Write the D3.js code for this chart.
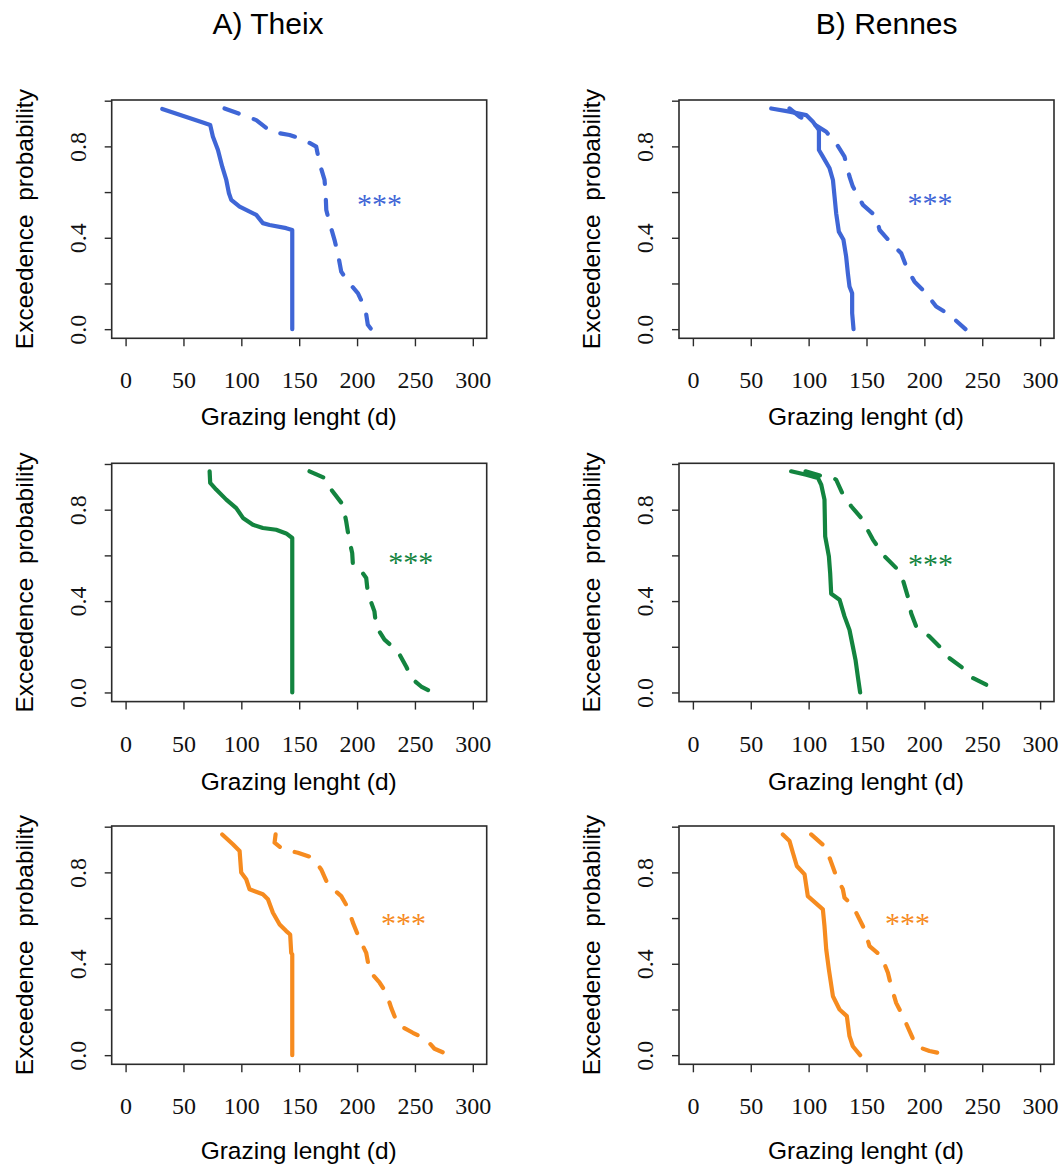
<!DOCTYPE html>
<html>
<head>
<meta charset="utf-8">
<script src="https://cdn.jsdelivr.net/npm/d3@7"></script>
<style>
  html, body { margin: 0; padding: 0; background: #fff; }
  svg { display: block; }
</style>
</head>
<body>
<svg id="chart" width="1062" height="1171"></svg>
<script>
// ---------------- DATA ----------------
const columnTitles = ["A) Theix", "B) Rennes"];
const xTicks = [0, 50, 100, 150, 200, 250, 300];
const yTicks = [0, 0.2, 0.4, 0.6, 0.8, 1.0];
const yTickLabels = {0: "0.0", 0.4: "0.4", 0.8: "0.8"};
const xTitle = "Grazing lenght (d)";
const yTitle = "Exceedence  probability";
const starLabel = "***";

// [grazing length (d), exceedence probability]
const theixBlueSolid = [[31.7,0.964],[66.8,0.905],[73.1,0.894],[75.4,0.843],[79.8,0.784],[83.5,0.711],[87,0.653],[89.3,0.595],[91.3,0.566],[98.5,0.536],[112.9,0.5],[118.6,0.464],[124.4,0.456],[138.8,0.442],[144,0.434],[144,0]];
const theixBlueDashed = [[85.5,0.966],[101.4,0.937],[112.9,0.915],[125.8,0.864],[141.7,0.85],[153.2,0.831],[164.7,0.799],[167.6,0.726],[171.9,0.653],[172.8,0.595],[173.4,0.522],[176.3,0.464],[180.5,0.391],[183.4,0.332],[186.3,0.252],[192.1,0.208],[200.8,0.157],[207.3,0.085],[209.3,0.019],[212.2,0]];
const rennesBlueSolid = [[67.7,0.966],[83.5,0.952],[97.9,0.937],[103.7,0.908],[108.9,0.872],[108.9,0.784],[112.3,0.755],[118.1,0.704],[121,0.653],[122.4,0.58],[123.8,0.507],[126.1,0.427],[130.1,0.391],[132.4,0.318],[133.9,0.245],[135.3,0.187],[137.6,0.157],[137.6,0.07],[138.8,0]];
const rennesBlueDashed = [[83.5,0.966],[92.1,0.93],[103.7,0.9],[115.2,0.864],[123.8,0.813],[131,0.755],[135.3,0.668],[138.2,0.624],[146.9,0.544],[158.4,0.493],[161.3,0.434],[171.4,0.376],[180,0.332],[184.9,0.267],[191.5,0.208],[201.6,0.157],[210.2,0.099],[221.7,0.063],[235.5,0]];
const theixGreenSolid = [[72.6,0.968],[73.1,0.917],[78.3,0.888],[87,0.844],[95.6,0.807],[101.4,0.764],[110,0.734],[118.6,0.72],[130.1,0.712],[138.8,0.696],[144,0.676],[144,0]];
const theixGreenDashed = [[158.9,0.968],[171.9,0.939],[177.7,0.888],[187.7,0.822],[190.6,0.749],[192.9,0.676],[195.8,0.61],[196.4,0.559],[201.6,0.545],[207.9,0.501],[209.3,0.435],[215,0.355],[216.5,0.289],[223.7,0.231],[235.2,0.18],[242.4,0.114],[246.8,0.063],[255.4,0.026],[265.5,0]];
const rennesGreenSolid = [[84.9,0.968],[97.9,0.953],[108,0.939],[110.9,0.909],[113.7,0.844],[114.3,0.683],[117.5,0.596],[118.6,0.523],[119.5,0.432],[126.7,0.406],[131,0.333],[135.3,0.274],[138.2,0.201],[140.5,0.143],[142.5,0.07],[144.5,0]];
const rennesGreenDashed = [[97.3,0.968],[112.3,0.946],[121,0.94],[123.8,0.931],[129,0.873],[136.8,0.815],[145.4,0.764],[155.5,0.669],[165.6,0.596],[175.6,0.545],[181.4,0.493],[185.7,0.42],[188.6,0.347],[192.9,0.289],[204.4,0.245],[213.1,0.201],[221.7,0.15],[233.2,0.107],[241.9,0.063],[253.4,0.034]];
const theixOrangeSolid = [[83.5,0.966],[92.7,0.923],[98.5,0.894],[99.9,0.799],[104.2,0.77],[107.1,0.726],[118.6,0.704],[123,0.682],[127.3,0.623],[133.1,0.572],[138.8,0.543],[142.2,0.528],[143.1,0.448],[144,0.441],[144,0]];
const theixOrangeDashed = [[129.6,0.966],[128.7,0.93],[135.9,0.901],[148.9,0.886],[161.8,0.864],[169,0.813],[174.8,0.747],[186.3,0.696],[192.1,0.645],[196.4,0.58],[202.2,0.507],[207.9,0.448],[210.8,0.368],[219.5,0.317],[225.2,0.273],[229.5,0.207],[235.2,0.134],[248.2,0.098],[259.7,0.069],[266.9,0.028],[279.9,0]];
const rennesOrangeSolid = [[77.7,0.966],[83.5,0.937],[86.4,0.886],[89.8,0.828],[96.5,0.791],[99.3,0.696],[112.3,0.638],[113.7,0.565],[115.2,0.463],[117.5,0.375],[121,0.258],[126.7,0.2],[133,0.171],[135.3,0.083],[138.2,0.039],[144.5,0]];
const rennesOrangeDashed = [[102.2,0.966],[113.7,0.915],[118.6,0.857],[123.8,0.784],[129.6,0.726],[131,0.689],[138.2,0.653],[148.3,0.55],[152.6,0.477],[162.7,0.434],[168.5,0.361],[171.3,0.302],[175.6,0.229],[181.4,0.171],[187.2,0.105],[193,0.039],[204.4,0.018],[218.8,0.003]];

// star annotation positions [x (d), y (prob)]
const starPositions = [[219.4,0.566],[204.9,0.57],[246.4,0.59],[205.3,0.578],[240.1,0.594],[185.5,0.594]];

const colors = ["#3F66D6", "#13843F", "#F68B1F"];

const panels = [
  {row:0, col:0, solid:theixBlueSolid, dashed:theixBlueDashed},
  {row:0, col:1, solid:rennesBlueSolid, dashed:rennesBlueDashed},
  {row:1, col:0, solid:theixGreenSolid, dashed:theixGreenDashed},
  {row:1, col:1, solid:rennesGreenSolid, dashed:rennesGreenDashed},
  {row:2, col:0, solid:theixOrangeSolid, dashed:theixOrangeDashed},
  {row:2, col:1, solid:rennesOrangeSolid, dashed:rennesOrangeDashed}
];

// ---------------- LAYOUT ----------------
const svg = d3.select("#chart");
const boxLeft = [111.7, 679];
const boxW = 375;
const boxTop = [100, 463.3, 826];
const boxH = 238.3;
const xTitleOffset = [87, 88, 95];
const sans = "'Liberation Sans', Arial, Helvetica, sans-serif";
const serif = "'Liberation Serif', 'Times New Roman', serif";

// column titles
const titleX = [268, 886.7];
columnTitles.forEach((t, i) => {
  svg.append("text").attr("x", titleX[i]).attr("y", 34)
    .attr("text-anchor", "middle").attr("font-family", sans)
    .attr("font-size", 30).attr("fill", "#000").text(t);
});

panels.forEach((p, i) => {
  const L = boxLeft[p.col], T = boxTop[p.row];
  const color = colors[p.row];
  const x = d3.scaleLinear().domain([-12, 312]).range([L, L + boxW]);
  const y = d3.scaleLinear().domain([-0.04, 1.003]).range([T + boxH, T]);
  const g = svg.append("g");

  // box
  g.append("rect").attr("x", L).attr("y", T).attr("width", boxW).attr("height", boxH)
    .attr("fill", "none").attr("stroke", "#2b2b2b").attr("stroke-width", 1.6);

  // x axis
  const xa = g.append("g").attr("transform", `translate(0,${T + boxH})`)
    .call(d3.axisBottom(x).tickValues(xTicks).tickSize(8).tickPadding(0).tickFormat(d3.format("d")));
  xa.select(".domain").remove();
  xa.selectAll(".tick line").attr("stroke", "#2b2b2b").attr("stroke-width", 1.4);
  xa.selectAll(".tick text").attr("y", 50).attr("dy", null)
    .attr("font-family", serif).attr("font-size", 24).attr("fill", "#111");

  // y axis
  const ya = g.append("g").attr("transform", `translate(${L},0)`)
    .call(d3.axisLeft(y).tickValues(yTicks).tickSize(7).tickFormat(d => yTickLabels[Math.round(d*10)/10] || ""));
  ya.select(".domain").remove();
  ya.selectAll(".tick line").attr("stroke", "#2b2b2b").attr("stroke-width", 1.4);
  ya.selectAll(".tick text")
    .attr("x", null).attr("dy", null)
    .attr("transform", "translate(-26,0) rotate(-90)")
    .attr("text-anchor", "middle")
    .attr("font-family", serif).attr("font-size", 24).attr("fill", "#111");

  // axis titles
  g.append("text")
    .attr("transform", `translate(${L - 79},${T + boxH / 2}) rotate(-90)`)
    .attr("text-anchor", "middle").attr("font-family", sans).attr("font-size", 24.5)
    .style("white-space", "pre").attr("fill", "#000").text(yTitle);
  g.append("text")
    .attr("x", L + 187).attr("y", T + boxH + xTitleOffset[p.row])
    .attr("text-anchor", "middle").attr("font-family", sans).attr("font-size", 24.5)
    .attr("fill", "#000").text(xTitle);

  // lines
  const line = d3.line().x(d => x(d[0])).y(d => y(d[1]));
  g.append("path").datum(p.solid).attr("d", line)
    .attr("fill", "none").attr("stroke", color).attr("stroke-width", 4.2)
    .attr("stroke-linejoin", "round").attr("stroke-linecap", "round");
  g.append("path").datum(p.dashed).attr("d", line)
    .attr("fill", "none").attr("stroke", color).attr("stroke-width", 4.2)
    .attr("stroke-linejoin", "round").attr("stroke-linecap", "round")
    .attr("stroke-dasharray", "15,16");

  // stars
  const sp = starPositions[i];
  g.append("text").attr("x", x(sp[0])).attr("y", y(sp[1]) + 14)
    .attr("text-anchor", "middle").attr("font-family", serif).attr("font-size", 30)
    .attr("fill", color).text(starLabel);
});
</script>
</body>
</html>
